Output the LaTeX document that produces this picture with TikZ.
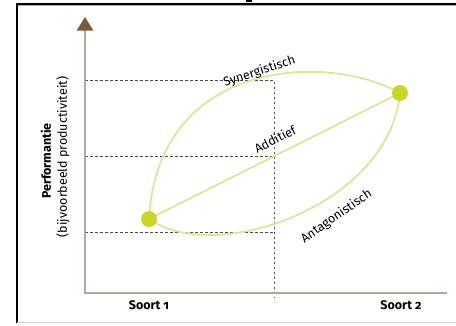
\documentclass[tikz,border=0pt]{standalone}
\usepackage{fontspec}
\setmainfont{Fira Sans}[Numbers=OldStyle]
\begin{document}
\begin{tikzpicture}[x=1pt,y=-1pt,
  curve/.style={draw=curvegreen,line width=1.8pt},
  guide/.style={draw=black!70,line width=0.6pt,dash pattern=on 2.5pt off 2.5pt},
  axisline/.style={draw=axisbrown,line width=1.3pt},
  dot/.style={circle,fill=dotgreen,inner sep=0pt,minimum size=16pt},
  curvelabel/.style={font=\fontsize{12.5}{14}\selectfont,inner sep=0pt},
  ticklabel/.style={font=\bfseries\fontsize{12.5}{14}\selectfont},
]
\definecolor{curvegreen}{HTML}{DDE59C}
\definecolor{dotgreen}{HTML}{CAD52C}
\definecolor{axisbrown}{HTML}{B7A698}
\definecolor{arrowbrown}{HTML}{7A5A3E}
\useasboundingbox (0,0) rectangle (456,325);
% frame
\draw[black!35,line width=1pt] (17,5.3) -- (456,5.3);
\draw[black,line width=1.8pt] (16.5,3.6) -- (456,3.6);
\draw[black,line width=1.8pt] (17,3) -- (17,323);
\draw[black!18,line width=1pt] (17,322) -- (456,322);
\fill[black] (246,0) rectangle (252,1.6);
% coordinates
\coordinate (o) at (85,293);
\coordinate (ytop) at (85,30);
\coordinate (xend) at (447,293);
\coordinate (h1) at (85,80.5);
\coordinate (h2) at (85,156.5);
\coordinate (h3) at (85,232);
\coordinate (v1) at (274,80.5);
\coordinate (v2) at (274,156.5);
\coordinate (v3) at (274,232);
\coordinate (vb) at (274,298);
% dashed guides
\draw[guide] (h1) -- (v1) -- (vb);
\draw[guide] (h2) -- (v2);
\draw[guide] (h3) -- (v3);
% axes
\draw[axisline] (ytop) -- (o) -- (xend);
\fill[arrowbrown] (85,17) -- (93.3,30.5) -- (76.7,30.5) -- cycle;
% dots (named) and curves
\coordinate (a) at (149,219);
\coordinate (b) at (400,93);
\draw[curve] (a) .. controls (158,57) and (330,53) .. (b);
\draw[curve] (a) -- (b);
\draw[curve] (a) .. controls (216,266) and (390,205) .. (b);
\node[dot] (da) at (a) {};
\node[dot] (db) at (b) {};
% labels
\node[curvelabel,rotate=18] (ls) at (259.5,71.5) {Synergistisch};
\node[curvelabel,rotate=27] (la) at (275,139) {Additief};
\node[curvelabel,rotate=35] (lt) at (336.5,216.5) {Antagonistisch};
\node[ticklabel] (s1) at (149,305) {Soort 1};
\node[ticklabel] (s2) at (401,305) {Soort 2};
\node[rotate=90,font=\bfseries\fontsize{12.5}{14}\selectfont] (yl1) at (46,161) {Performantie};
\node[rotate=90,font=\fontsize{12.5}{14}\selectfont] (yl2) at (63,157) {(bijvoorbeeld productiviteit)};
\end{tikzpicture}
\end{document}
